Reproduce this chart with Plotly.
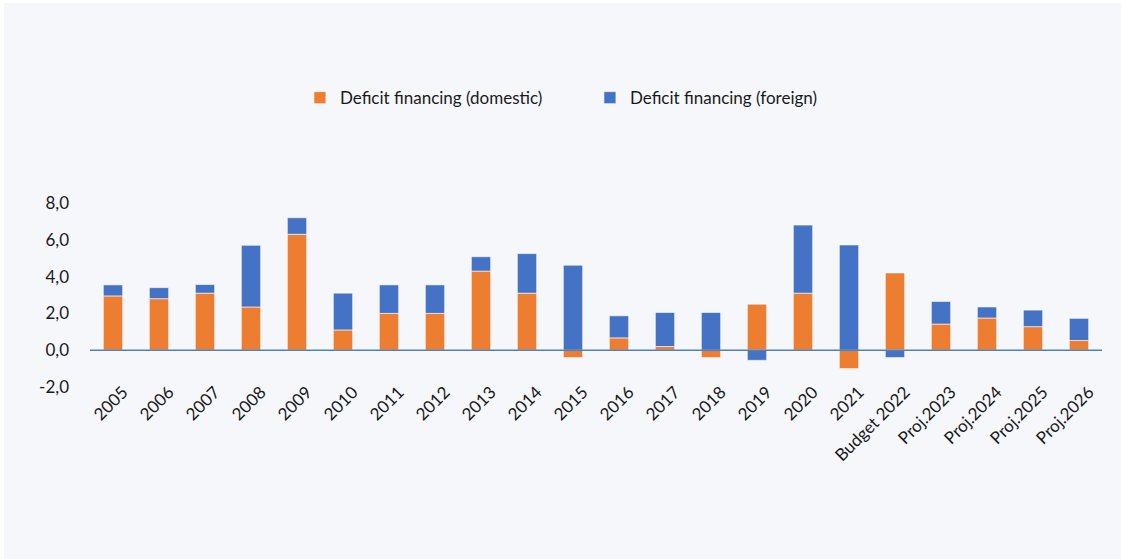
import plotly.graph_objects as go

# categories and values (% of GDP)
years = ["2005", "2006", "2007", "2008", "2009", "2010", "2011", "2012", "2013", "2014",
         "2015", "2016", "2017", "2018", "2019", "2020", "2021", "Budget 2022",
         "Proj.2023", "Proj.2024", "Proj.2025", "Proj.2026"]
domestic = [2.95, 2.8, 3.1, 2.35, 6.3, 1.1, 2.0, 2.0, 4.3, 3.1,
            -0.4, 0.67, 0.2, -0.4, 2.5, 3.1, -1.0, 4.2,
            1.42, 1.75, 1.28, 0.53]
foreign = [0.6, 0.6, 0.47, 3.35, 0.9, 2.0, 1.55, 1.55, 0.78, 2.15,
           4.62, 1.2, 1.85, 2.05, -0.55, 3.7, 5.72, -0.4,
           1.23, 0.6, 0.9, 1.2]
y_ticks = [-2, 0, 2, 4, 6, 8]
y_tick_labels = ["-2,0", "0,0", "2,0", "4,0", "6,0", "8,0"]

ORANGE = "#ED7D31"
BLUE = "#4472C4"
FONT = "Lato"

fig = go.Figure()
fig.add_trace(go.Bar(x=years, y=domestic, name="Deficit financing (domestic)",
                     marker=dict(color=ORANGE, line=dict(color="rgba(255,255,255,0.6)", width=1))))
fig.add_trace(go.Bar(x=years, y=foreign, name="Deficit financing (foreign)",
                     marker=dict(color=BLUE, line=dict(color="rgba(255,255,255,0.6)", width=1))))

fig.update_layout(
    width=1121, height=559,
    barmode="relative", bargap=0.58,
    paper_bgcolor="white", plot_bgcolor="rgba(0,0,0,0)",
    font=dict(family=FONT, color="#1a1a1a", size=17),
    margin=dict(l=90, r=19, t=203, b=172),
    legend=dict(orientation="h", x=0.494, xanchor="center", y=1.57, yanchor="middle",
                font=dict(size=17), entrywidth=245, traceorder="normal",
                bgcolor="rgba(0,0,0,0)"),
    showlegend=True,
)

# light background panel, leaving a thin white strip on the top and left
fig.add_shape(type="rect", xref="paper", yref="paper", layer="below",
              x0=-86 / 1012, x1=1 + 19 / 1012, y0=-172 / 184, y1=1 + 200 / 184,
              fillcolor="#F6F7FB", line=dict(width=0))
# zero line drawn above the bars
fig.add_shape(type="line", xref="paper", yref="y", layer="above",
              x0=0, x1=1, y0=0, y1=0, line=dict(color="#4F81BD", width=1.5))

fig.update_xaxes(tickangle=-45, showgrid=False, showline=False, ticks="",
                 tickfont=dict(size=17), ticklabelshift=10, ticklabelstandoff=-9)
fig.update_yaxes(range=[-2, 8], tickvals=y_ticks, ticktext=y_tick_labels, showgrid=False,
                 zeroline=False, showline=False, ticks="", ticklabelstandoff=20,
                 tickfont=dict(size=17))

fig.write_html("out.html", config={"displayModeBar": False},
               post_script="document.body.style.margin='0';")
